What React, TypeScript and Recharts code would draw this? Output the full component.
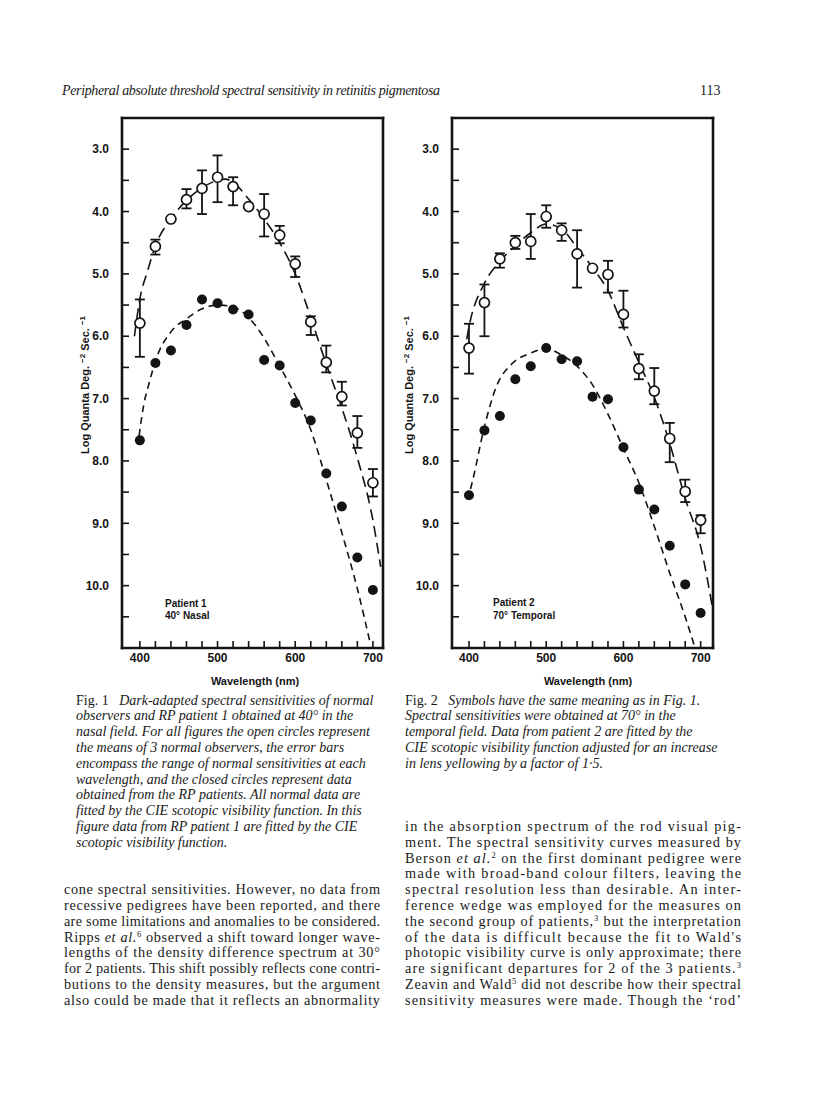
import React from "react";
import { ComposedChart, Line, Scatter, ErrorBar, XAxis, YAxis } from "recharts";

// wavelengths (nm) at which both normals and patients were tested
const wavelengths = [400, 420, 440, 460, 480, 500, 520, 540, 560, 580, 600, 620, 640, 660, 680, 700];

// Fig. 1 — patient 1, 40° nasal (log quanta deg^-2 sec^-1)
const fig1NormalMean = [5.79, 4.56, 4.12, 3.81, 3.63, 3.45, 3.6, 3.92, 4.04, 4.38, 4.84, 5.77, 6.42, 6.97, 7.55, 8.35];
const fig1NormalTop = [5.41, 4.45, 4.12, 3.64, 3.34, 3.1, 3.45, 3.92, 3.72, 4.23, 4.72, 5.68, 6.15, 6.73, 7.28, 8.13];
const fig1NormalBottom = [6.33, 4.69, 4.12, 3.95, 4.04, 3.85, 3.9, 3.92, 4.4, 4.51, 5.05, 5.98, 6.58, 7.11, 7.79, 8.57];
const fig1Patient = [7.67, 6.43, 6.23, 5.82, 5.41, 5.47, 5.57, 5.65, 6.38, 6.47, 7.07, 7.35, 8.2, 8.73, 9.55, 10.07];

// dashed CIE scotopic fits
const fig1NormalFitNm = [393, 400, 410, 420, 440, 460, 480, 500, 510, 520, 540, 560, 580, 600, 620, 640, 660, 680, 700, 710];
const fig1NormalFitLog = [6.0, 5.4, 4.95, 4.55, 4.12, 3.82, 3.62, 3.5, 3.48, 3.53, 3.8, 4.12, 4.5, 5.0, 5.7, 6.45, 7.15, 7.95, 8.95, 9.7];
const fig1PatientFitNm = [399, 405, 412, 420, 440, 460, 480, 500, 520, 540, 560, 580, 600, 620, 640, 660, 680, 697];
const fig1PatientFitLog = [7.6, 7.1, 6.75, 6.4, 5.93, 5.72, 5.56, 5.5, 5.53, 5.7, 6.03, 6.48, 6.95, 7.5, 8.3, 9.15, 10.05, 10.95];

// Fig. 2 — patient 2, 70° temporal
const fig2NormalMean = [6.19, 5.46, 4.76, 4.5, 4.48, 4.08, 4.3, 4.68, 4.91, 5.01, 5.65, 6.52, 6.88, 7.64, 8.49, 8.95];
const fig2NormalTop = [5.8, 5.17, 4.67, 4.39, 4.04, 3.9, 4.19, 4.3, 4.91, 4.79, 5.27, 6.29, 6.51, 7.39, 8.3, 8.87];
const fig2NormalBottom = [6.6, 6.0, 4.9, 4.6, 4.76, 4.26, 4.47, 5.22, 4.91, 5.3, 5.86, 6.69, 7.09, 8.02, 8.66, 9.16];
const fig2Patient = [8.55, 7.51, 7.28, 6.69, 6.48, 6.19, 6.37, 6.4, 6.97, 7.01, 7.78, 8.46, 8.78, 9.36, 9.98, 10.44];

const fig2NormalFitNm = [397, 400, 420, 440, 460, 480, 500, 520, 540, 560, 580, 600, 620, 640, 660, 680, 700, 716];
const fig2NormalFitLog = [6.05, 5.85, 5.15, 4.8, 4.55, 4.34, 4.2, 4.28, 4.58, 4.9, 5.27, 5.86, 6.42, 6.98, 7.72, 8.6, 9.37, 10.4];
const fig2PatientFitNm = [402, 405, 420, 435, 455, 480, 500, 520, 540, 560, 580, 600, 620, 640, 660, 680, 692];
const fig2PatientFitLog = [8.45, 8.3, 7.45, 6.82, 6.45, 6.27, 6.2, 6.3, 6.48, 6.78, 7.25, 7.8, 8.35, 9.05, 9.8, 10.5, 10.97];

const xTicks = [400, 420, 440, 460, 480, 500, 520, 540, 560, 580, 600, 620, 640, 660, 680, 700];
const yTicks = [3, 3.5, 4, 4.5, 5, 5.5, 6, 6.5, 7, 7.5, 8, 8.5, 9, 9.5, 10, 10.5];

const INK = "#141414";
const frame = { stroke: INK, strokeWidth: 2.6, strokeLinecap: "square" as const };
const tickLine = { stroke: INK, strokeWidth: 1.6 };
const tickFont = { fontSize: 12, fontWeight: 700, fill: INK, fontFamily: "Liberation Sans, Arial, sans-serif" };

const OpenDot = (p: any) => <circle cx={p.cx} cy={p.cy} r={5} fill="#fff" stroke={INK} strokeWidth={1.7} />;
const FilledDot = (p: any) => <circle cx={p.cx} cy={p.cy} r={5} fill={INK} />;

function Panel({ left, mean, top, bottom, patient, normalFit, patientFit, xDomain }: any) {
  const normal = wavelengths.map((nm, i) => ({ nm, v: mean[i], e: [mean[i] - top[i], bottom[i] - mean[i]] }));
  const rp = wavelengths.map((nm, i) => ({ nm, v: patient[i] }));
  const nFit = normalFit[0].map((nm: number, i: number) => ({ nm, v: normalFit[1][i] }));
  const pFit = patientFit[0].map((nm: number, i: number) => ({ nm, v: patientFit[1][i] }));
  return (
    <div style={{ position: "absolute", left, top: 100 }}>
      <ComposedChart width={370} height={600} margin={{ top: 0, right: 0, bottom: 0, left: 0 }}>
        <XAxis xAxisId="b" type="number" dataKey="nm" domain={xDomain} allowDataOverflow ticks={xTicks} interval={0}
          height={52} tickSize={-7} tickMargin={12} tickLine={tickLine} axisLine={frame} tick={tickFont}
          tickFormatter={(v) => (v % 100 === 0 ? String(v) : "")} />
        <XAxis xAxisId="t" orientation="top" type="number" domain={xDomain} allowDataOverflow ticks={xTicks} interval={0}
          height={18} tickSize={-7} tick={false} tickLine={tickLine} axisLine={frame} />
        <YAxis yAxisId="l" type="number" domain={[2.5, 11]} reversed allowDataOverflow ticks={yTicks} interval={0}
          width={82} tickSize={-7} tickMargin={20} tickLine={tickLine} axisLine={frame} tick={tickFont}
          tickFormatter={(v) => (Number.isInteger(v) ? v.toFixed(1) : "")} />
        <YAxis yAxisId="r" orientation="right" type="number" domain={[2.5, 11]} reversed allowDataOverflow ticks={yTicks}
          interval={0} width={27} tickSize={-7} tick={false} tickLine={tickLine} axisLine={frame} />
        <Line xAxisId="b" yAxisId="l" data={nFit} dataKey="v" type="monotone" stroke={INK} strokeWidth={1.6}
          strokeDasharray="11 6" dot={false} isAnimationActive={false} />
        <Line xAxisId="b" yAxisId="l" data={pFit} dataKey="v" type="monotone" stroke={INK} strokeWidth={1.6}
          strokeDasharray="7 5" dot={false} isAnimationActive={false} />
        <Scatter xAxisId="b" yAxisId="l" data={normal} dataKey="v" shape={OpenDot} isAnimationActive={false}>
          <ErrorBar dataKey="e" direction="y" width={5} stroke={INK} strokeWidth={1.8} isAnimationActive={false} />
        </Scatter>
        <Scatter xAxisId="b" yAxisId="l" data={rp} dataKey="v" shape={FilledDot} isAnimationActive={false} />
      </ComposedChart>
    </div>
  );
}

// ---- page text ----
const ROW0 = 700;
const ROW_H = 15.8;
const rowY = (k: number) => ROW0 + (k - 1) * ROW_H + 4.5;

type Part = string | { t: string; i?: boolean; s?: boolean; r?: boolean };

const caption1: Part[][] = [
  [{ t: "Fig. 1", r: true }, "   Dark-adapted spectral sensitivities of normal"],
  ["observers and RP patient 1 obtained at 40° in the"],
  ["nasal field. For all figures the open circles represent"],
  ["the means of 3 normal observers, the error bars"],
  ["encompass the range of normal sensitivities at each"],
  ["wavelength, and the closed circles represent data"],
  ["obtained from the RP patients. All normal data are"],
  ["fitted by the CIE scotopic visibility function. In this"],
  ["figure data from RP patient 1 are fitted by the CIE"],
  ["scotopic visibility function."],
];
const caption2: Part[][] = [
  [{ t: "Fig. 2", r: true }, "   Symbols have the same meaning as in Fig. 1."],
  ["Spectral sensitivities were obtained at 70° in the"],
  ["temporal field. Data from patient 2 are fitted by the"],
  ["CIE scotopic visibility function adjusted for an increase"],
  ["in lens yellowing by a factor of 1·5."],
];
const leftBody: Part[][] = [
  ["cone spectral sensitivities. However, no data from"],
  ["recessive pedigrees have been reported, and there"],
  ["are some limitations and anomalies to be considered."],
  ["Ripps ", { t: "et al.", i: true }, { t: "6", s: true }, " observed a shift toward longer wave-"],
  ["lengths of the density difference spectrum at 30°"],
  ["for 2 patients. This shift possibly reflects cone contri-"],
  ["butions to the density measures, but the argument"],
  ["also could be made that it reflects an abnormality"],
];
const rightBody: Part[][] = [
  ["in the absorption spectrum of the rod visual pig-"],
  ["ment. The spectral sensitivity curves measured by"],
  ["Berson ", { t: "et al.", i: true }, { t: "2", s: true }, " on the first dominant pedigree were"],
  ["made with broad-band colour filters, leaving the"],
  ["spectral resolution less than desirable. An inter-"],
  ["ference wedge was employed for the measures on"],
  ["the second group of patients,", { t: "3", s: true }, " but the interpretation"],
  ["of the data is difficult because the fit to Wald's"],
  ["photopic visibility curve is only approximate; there"],
  ["are significant departures for 2 of the 3 patients.", { t: "3", s: true }],
  ["Zeavin and Wald", { t: "5", s: true }, " did not describe how their spectral"],
  ["sensitivity measures were made. Though the ‘rod’"],
];

function TextLine({ x, y, parts, width, italic, size }: any) {
  return (
    <text x={x} y={y} fontSize={size} fontStyle={italic ? "italic" : "normal"} xmlSpace="preserve"
      textLength={width} lengthAdjust={width ? "spacing" : undefined}>
      {parts.map((p: Part, i: number) =>
        typeof p === "string" ? (
          <tspan key={i}>{p}</tspan>
        ) : (
          <tspan key={i} fontStyle={p.r ? "normal" : p.i ? "italic" : undefined}
            fontSize={p.s ? 8.5 : undefined} baselineShift={p.s ? "super" : undefined}>
            {p.t}
          </tspan>
        )
      )}
    </text>
  );
}

function PageText() {
  const sans = "Liberation Sans, Arial, sans-serif";
  return (
    <svg width={816} height={1109} style={{ position: "absolute", left: 0, top: 0, pointerEvents: "none" }}
      fontFamily="Liberation Serif, Times New Roman, serif" fill="#1a1a1a">
      <text x={62} y={95} fontSize={14} fontStyle="italic" textLength={378} lengthAdjust="spacing">
        Peripheral absolute threshold spectral sensitivity in retinitis pigmentosa
      </text>
      <text x={700} y={95} fontSize={14}>113</text>

      {/* axis titles and panel notes */}
      <g fontFamily={sans} fontWeight={700} fill={INK}>
        {[89, 413].map((cx) => (
          <text key={cx} transform={`translate(${cx},385) rotate(-90)`} textAnchor="middle" fontSize={11}>
            Log Quanta Deg.{" "}
            <tspan fontSize={8} baselineShift="super">−2</tspan>
            <tspan> Sec. </tspan>
            <tspan fontSize={8} baselineShift="super">−1</tspan>
          </text>
        ))}
        <text x={255} y={685} textAnchor="middle" fontSize={11}>Wavelength (nm)</text>
        <text x={588} y={685} textAnchor="middle" fontSize={11}>Wavelength (nm)</text>
        <text x={165} y={607} fontSize={10}>Patient 1</text>
        <text x={165} y={619} fontSize={10}>40° Nasal</text>
        <text x={493} y={606} fontSize={10}>Patient 2</text>
        <text x={493} y={619} fontSize={10}>70° Temporal</text>
      </g>

      {caption1.map((parts, i) => (
        <TextLine key={"c1" + i} x={76} y={rowY(i + 1)} parts={parts} italic size={14} />
      ))}
      {caption2.map((parts, i) => (
        <TextLine key={"c2" + i} x={405} y={rowY(i + 1)} parts={parts} italic size={14} />
      ))}
      {leftBody.map((parts, i) => (
        <TextLine key={"l" + i} x={64} y={rowY(i + 13)} parts={parts} width={316} size={14.3} />
      ))}
      {rightBody.map((parts, i) => (
        <TextLine key={"r" + i} x={405} y={rowY(i + 9)} parts={parts} width={336} size={14.3} />
      ))}
    </svg>
  );
}

export default function App() {
  return (
    <div style={{ position: "absolute", left: 0, top: 0, width: 816, height: 1109, background: "#fff" }}>
      <Panel left={40} mean={fig1NormalMean} top={fig1NormalTop} bottom={fig1NormalBottom} patient={fig1Patient}
        normalFit={[fig1NormalFitNm, fig1NormalFitLog]} patientFit={[fig1PatientFitNm, fig1PatientFitLog]}
        xDomain={[377, 713]} />
      <Panel left={370} mean={fig2NormalMean} top={fig2NormalTop} bottom={fig2NormalBottom} patient={fig2Patient}
        normalFit={[fig2NormalFitNm, fig2NormalFitLog]} patientFit={[fig2PatientFitNm, fig2PatientFitLog]}
        xDomain={[378, 716]} />
      <PageText />
    </div>
  );
}
